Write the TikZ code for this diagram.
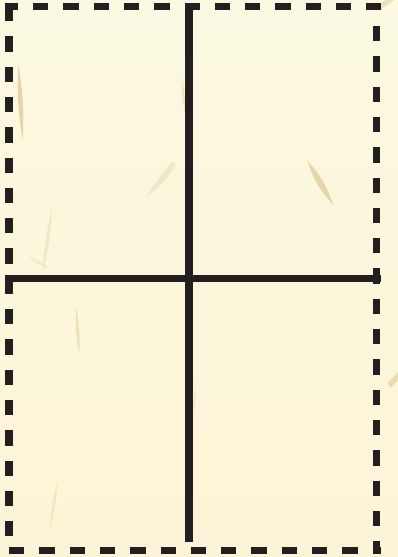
\documentclass[tikz,border=0pt]{standalone}
\definecolor{paperTop}{HTML}{FBF9E1}
\definecolor{paperBot}{HTML}{FCF4D6}
\definecolor{ink}{HTML}{231F20}
\definecolor{fib}{HTML}{E4D0A2}
\tikzset{
  border/.style={draw=ink, line width=7.5pt, dash pattern=on 15.3pt off 15pt, line cap=butt},
  divider/.style={draw=ink, line width=7.5pt, line cap=butt},
  fiber/.style={fill=fib, draw=none, fill opacity=#1},
}
\begin{document}
\begin{tikzpicture}[x=1pt,y=-1pt]
\useasboundingbox (0,0) rectangle (398,557);
% paper
\shade[top color=paperTop, bottom color=paperBot] (0,0) rectangle (398,557);
% fibers
\fill[fiber=0.9] (18.3,65) to[bend left=6] (22.7,140) to[bend left=6] cycle;
\fill[fiber=0.45] (182,78) to[bend left=7] (185,113) to[bend left=7] cycle;
\fill[fiber=0.4] (176,164) to[bend left=12] (146,197) to[bend left=4] (172,162) -- cycle;
\fill[fiber=0.85] (307.3,160.7) to[bend left=12] (333.3,205) to[bend left=12] cycle;
\fill[fiber=0.4] (52.3,206.7) to[bend left=5] (42.7,273) to[bend left=5] cycle;
\fill[fiber=0.35] (28.3,256.7) to[bend left=14] (48.3,268) to[bend left=14] cycle;
\fill[fiber=0.6] (76,306.7) to[bend left=6] (79.3,355) to[bend left=6] cycle;
\fill[fiber=0.35] (196,388) to[bend left=8] (193.3,411.7) to[bend left=8] cycle;
\fill[fiber=0.4] (57.3,482.7) to[bend left=6] (50,528) to[bend left=6] cycle;
\fill[fiber=0.7] (387.3,383) -- (398,372) -- (398,380) -- (391,388) -- cycle;
\fill[fiber=0.6] (376,6) -- (388,-1) -- (394,0) -- (380,10) -- cycle;
% divider lines
\coordinate (vt) at (189,2.7);
\coordinate (vb) at (189,542);
\coordinate (hl) at (5,278.3);
\coordinate (hr) at (381,278.3);
\draw[divider] (vt) -- (vb);
\draw[divider] (hl) -- (hr);
% dashed border
\coordinate (tl) at (4.5,6.5);
\coordinate (tr) at (380.7,6.5);
\draw[border, dash phase=1.8pt] (tl) -- (tr);
\coordinate (ls) at (8.75,6);
\coordinate (le) at (8.75,550);
\draw[border] (ls) -- (le);
\coordinate (bs) at (9,550.5);
\coordinate (be) at (380.7,550.5);
\draw[border] (bs) -- (be);
\coordinate (rs) at (376.7,26);
\coordinate (re) at (376.7,554.3);
\draw[border] (rs) -- (re);
\end{tikzpicture}
\end{document}
